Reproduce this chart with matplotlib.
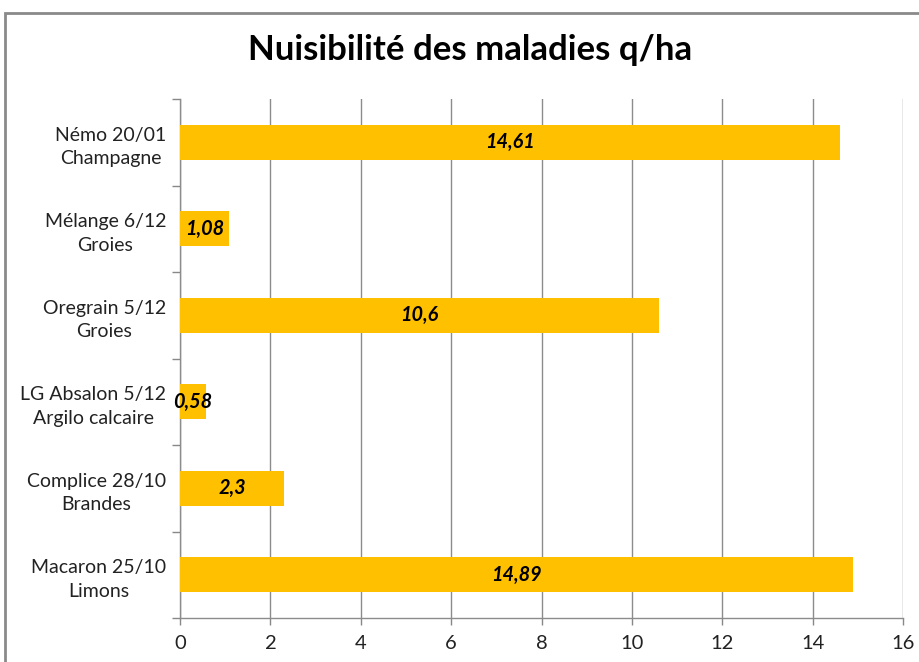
import matplotlib
matplotlib.use("Agg")
import matplotlib.pyplot as plt
from matplotlib.patches import Rectangle
import numpy as np

categories = ["Némo 20/01\nChampagne", "Mélange 6/12\nGroies", "Oregrain 5/12\nGroies",
              "LG Absalon 5/12\nArgilo calcaire", "Complice 28/10\nBrandes", "Macaron 25/10\nLimons"]
values = [14.61, 1.08, 10.6, 0.58, 2.3, 14.89]
value_labels = ["14,61", "1,08", "10,6", "0,58", "2,3", "14,89"]
x_ticks = [0, 2, 4, 6, 8, 10, 12, 14, 16]

plt.rcParams['font.family'] = ['Lato', 'DejaVu Sans']

fig = plt.figure(figsize=(9.19, 6.62), dpi=100)
ax = fig.add_axes([180/919, 1-618/662, (903-180)/919, (618-99)/662])

n = len(categories)
ypos = np.arange(n)
ax.barh(ypos, values, height=0.41, color='#FFC000', zorder=3)
for y, v, lab in zip(ypos, values, value_labels):
    ax.text(v/2, y, lab, ha='center', va='center', fontsize=14.3,
            fontweight='bold', fontstyle='italic', color='black', zorder=4)

ax.set_ylim(n-0.5, -0.5)
ax.set_xlim(0, 16)
ax.set_xticks(x_ticks)
ax.set_xticklabels([str(t) for t in x_ticks], fontsize=14.5, color='#222222')

ax.set_yticks(np.arange(-0.5, n, 1.0))
ax.set_yticklabels([])
ax.set_yticks(ypos, minor=True)
ax.set_yticklabels(categories, minor=True, fontsize=14, color='#222222', linespacing=1.45)
for lbl in ax.get_yticklabels(minor=True):
    lbl.set_multialignment('center')
ax.tick_params(axis='y', which='major', length=6, color='#888888', width=1)
ax.tick_params(axis='y', which='minor', length=0, pad=10)
ax.tick_params(axis='x', length=5, color='#888888', width=1, pad=7)

ax.grid(axis='x', color='#8c8c8c', linewidth=1, zorder=0)
for s in ['top', 'right']:
    ax.spines[s].set_visible(False)
for s in ['left', 'bottom']:
    ax.spines[s].set_color('#8c8c8c')
    ax.spines[s].set_linewidth(1)

fig.text(470/919, 1-50/662, "Nuisibilité des maladies q/ha", ha='center', va='center',
         fontsize=25, fontweight='bold', color='black')

fig.patches.append(Rectangle((5/919, -0.2), 1.2, 1-13/662+0.2, transform=fig.transFigure,
                             fill=False, edgecolor='#8a8a8a', linewidth=2))

fig.savefig("out.png", dpi=100)
